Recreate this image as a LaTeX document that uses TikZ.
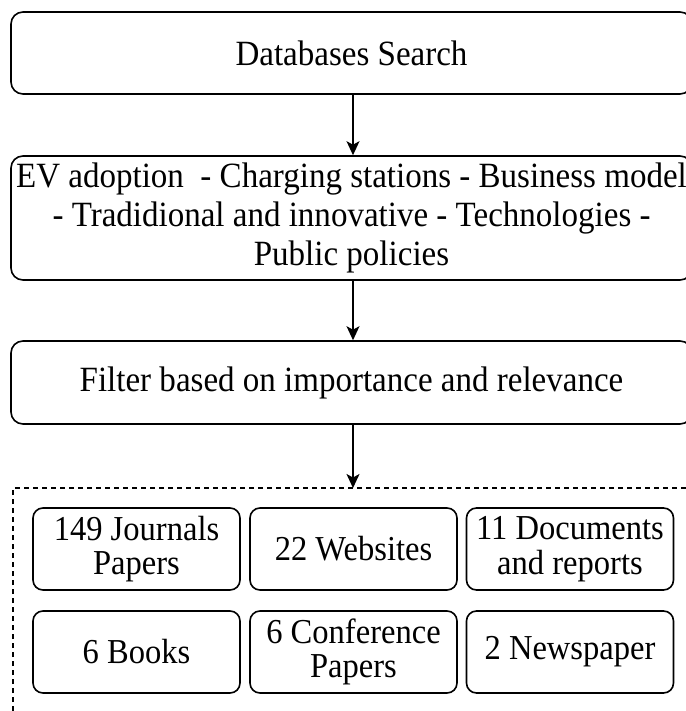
\documentclass[tikz,border=0pt]{standalone}
\usepackage{fontspec}
\setmainfont{Liberation Serif}[FakeStretch=0.93]
\usetikzlibrary{arrows.meta}
\tikzset{
  bigbox/.style={draw, line width=1.6pt, rounded corners=12pt, inner sep=0pt,
    minimum width=681pt, align=center, font=\fontsize{35.5}{39}\selectfont},
  smallbox/.style={draw, line width=1.6pt, rounded corners=10pt, inner sep=0pt,
    minimum width=207pt, minimum height=82pt, align=center,
    font=\fontsize{35}{34.5}\selectfont},
  flowarrow/.style={line width=1.5pt, -{Stealth[length=14pt, width=13pt, inset=3.5pt]}},
  groupbox/.style={draw, line width=1.4pt, dash pattern=on 5pt off 4pt}
}
\begin{document}
\begin{tikzpicture}[x=1pt, y=-1pt]
\useasboundingbox (0,0) rectangle (685,711);
\node[bigbox, minimum height=82pt] (db) at (351.5,53) {Databases Search};
\node[bigbox, minimum height=124pt] (kw) at (351.5,218)
  {EV adoption \ - Charging stations - Business model\\- Tradidional and innovative - Technologies -\\Public policies};
\node[bigbox, minimum height=83pt] (flt) at (351.5,382.5) {Filter based on importance and relevance};
\draw[groupbox] (13,720) -- (13,488) -- (692,488);
\coordinate (grp) at (353,488);
\draw[flowarrow] (db.south -| grp) -- (kw.north -| grp);
\draw[flowarrow] (kw.south -| grp) -- (flt.north -| grp);
\draw[flowarrow] (flt.south -| grp) -- (grp);
\node[smallbox] (jp) at (136.5,549) {149 Journals\\Papers};
\node[smallbox] (ws) at (353.5,549) {22 Websites};
\node[smallbox] (dr) at (570,549) {11 Documents\\and reports};
\node[smallbox] (bk) at (136.5,652) {6 Books};
\node[smallbox] (cp) at (353.5,652) {6 Conference\\Papers};
\node[smallbox] (np) at (570,652) {2 Newspaper};
\end{tikzpicture}
\end{document}
